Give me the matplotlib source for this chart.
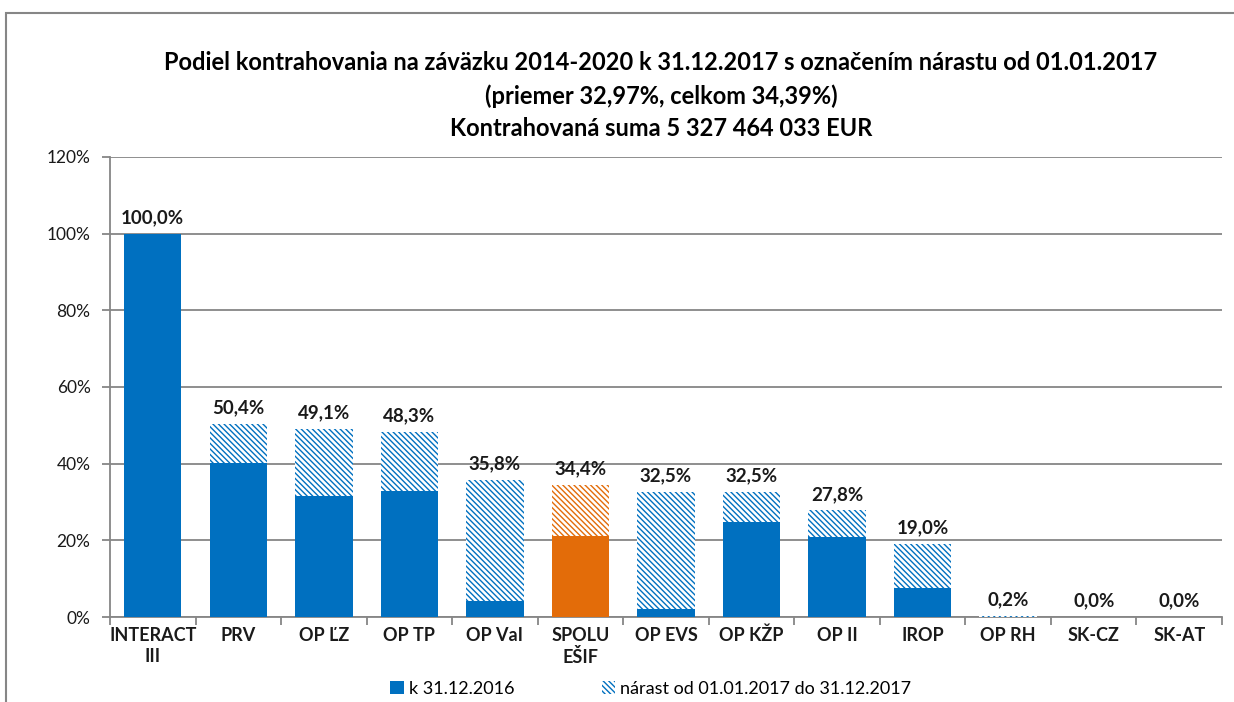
import numpy as np
import matplotlib.pyplot as plt
from matplotlib.patches import Patch, Rectangle

plt.rcParams['font.family'] = ['Lato', 'DejaVu Sans']
plt.rcParams['hatch.linewidth'] = 1.0

# data
categories = ['INTERACT\nIII', 'PRV', 'OP ĽZ', 'OP TP', 'OP VaI', 'SPOLU\nEŠIF',
              'OP EVS', 'OP KŽP', 'OP II', 'IROP', 'OP RH', 'SK-CZ', 'SK-AT']
base_2016 = [100.0, 40.1, 31.5, 32.8, 4.2, 21.1, 2.1, 24.7, 20.8, 7.5, 0.0, 0.0, 0.0]
total_2017 = [100.0, 50.4, 49.1, 48.3, 35.8, 34.4, 32.5, 32.5, 27.8, 19.0, 0.2, 0.0, 0.0]

blue = '#0070C0'
orange = '#E36C09'
grid_col = '#868686'
hatch = '\\' * 6

fig = plt.figure(figsize=(12.34, 7.02), dpi=100)
ax = fig.add_axes([110 / 1234, 1 - 617 / 702, (1222 - 110) / 1234, (617 - 157) / 702])

x = np.arange(len(categories))
base = np.array(base_2016)
growth = np.array(total_2017) - base
colors = [orange if c.startswith('SPOLU') else blue for c in categories]

ax.bar(x, base, width=0.67, color=colors, linewidth=0, zorder=3)
for xi, b, g, c in zip(x, base, growth, colors):
    ax.bar(xi, g, bottom=b, width=0.67, facecolor='white', edgecolor=c,
           hatch=hatch, linewidth=0, zorder=3)

for xi, t in zip(x, total_2017):
    ax.text(xi, t + 2.0, f'{t:.1f}%'.replace('.', ','), ha='center', va='bottom',
            fontsize=13.5, fontweight='bold', color='#1a1a1a')

ax.set_xlim(-0.5, len(categories) - 0.5)
ax.set_ylim(0, 120)
ax.set_yticks(np.arange(0, 121, 20))
ax.set_yticklabels([f'{v}%' for v in range(0, 121, 20)], fontsize=12.5, color='#1a1a1a')
ax.yaxis.grid(True, color=grid_col, linewidth=1.3, zorder=0)
ax.set_axisbelow(True)

ax.set_xticks(x)
ax.set_xticklabels(categories, fontsize=13, fontweight='bold', color='#1a1a1a',
                   linespacing=1.3)
ax.tick_params(axis='x', length=0, pad=7)
ax.set_xticks(np.arange(-0.5, len(categories), 1), minor=True)
ax.tick_params(axis='x', which='minor', length=6, color=grid_col, width=1.3)
ax.tick_params(axis='y', length=6, color=grid_col, width=1.3, pad=8)

for s in ['top', 'right']:
    ax.spines[s].set_visible(False)
for s in ['left', 'bottom']:
    ax.spines[s].set_color(grid_col)
    ax.spines[s].set_linewidth(1.3)

title_size = 17
fig.text(661 / 1234, 1 - 63 / 702,
         'Podiel kontrahovania na záväzku 2014-2020 k 31.12.2017 s označením nárastu od 01.01.2017',
         ha='center', va='center', fontsize=title_size, fontweight='bold')
fig.text(661 / 1234, 1 - 96 / 702, '(priemer 32,97%, celkom 34,39%)',
         ha='center', va='center', fontsize=title_size, fontweight='bold')
fig.text(661 / 1234, 1 - 128 / 702, 'Kontrahovaná suma 5 327 464 033 EUR',
         ha='center', va='center', fontsize=title_size, fontweight='bold')

handles = [Patch(facecolor=blue, linewidth=0),
           Patch(facecolor='white', edgecolor=blue, hatch=hatch, linewidth=0)]
fig.legend(handles, ['k 31.12.2016', 'nárast od 01.01.2017 do 31.12.2017'],
           loc='center', bbox_to_anchor=(651 / 1234, 1 - 689 / 702), ncol=2,
           frameon=False, fontsize=13, handlelength=0.75, handleheight=0.75,
           handletextpad=0.3, columnspacing=4.8)

# chart area frame (partially cropped in the reference)
fig.patches.append(Rectangle((6 / 1234, -0.1), 1.2, 1 - 13 / 702 + 0.1,
                             transform=fig.transFigure, fill=False,
                             edgecolor=grid_col, linewidth=1.5))

fig.savefig('out.png', dpi=100)
